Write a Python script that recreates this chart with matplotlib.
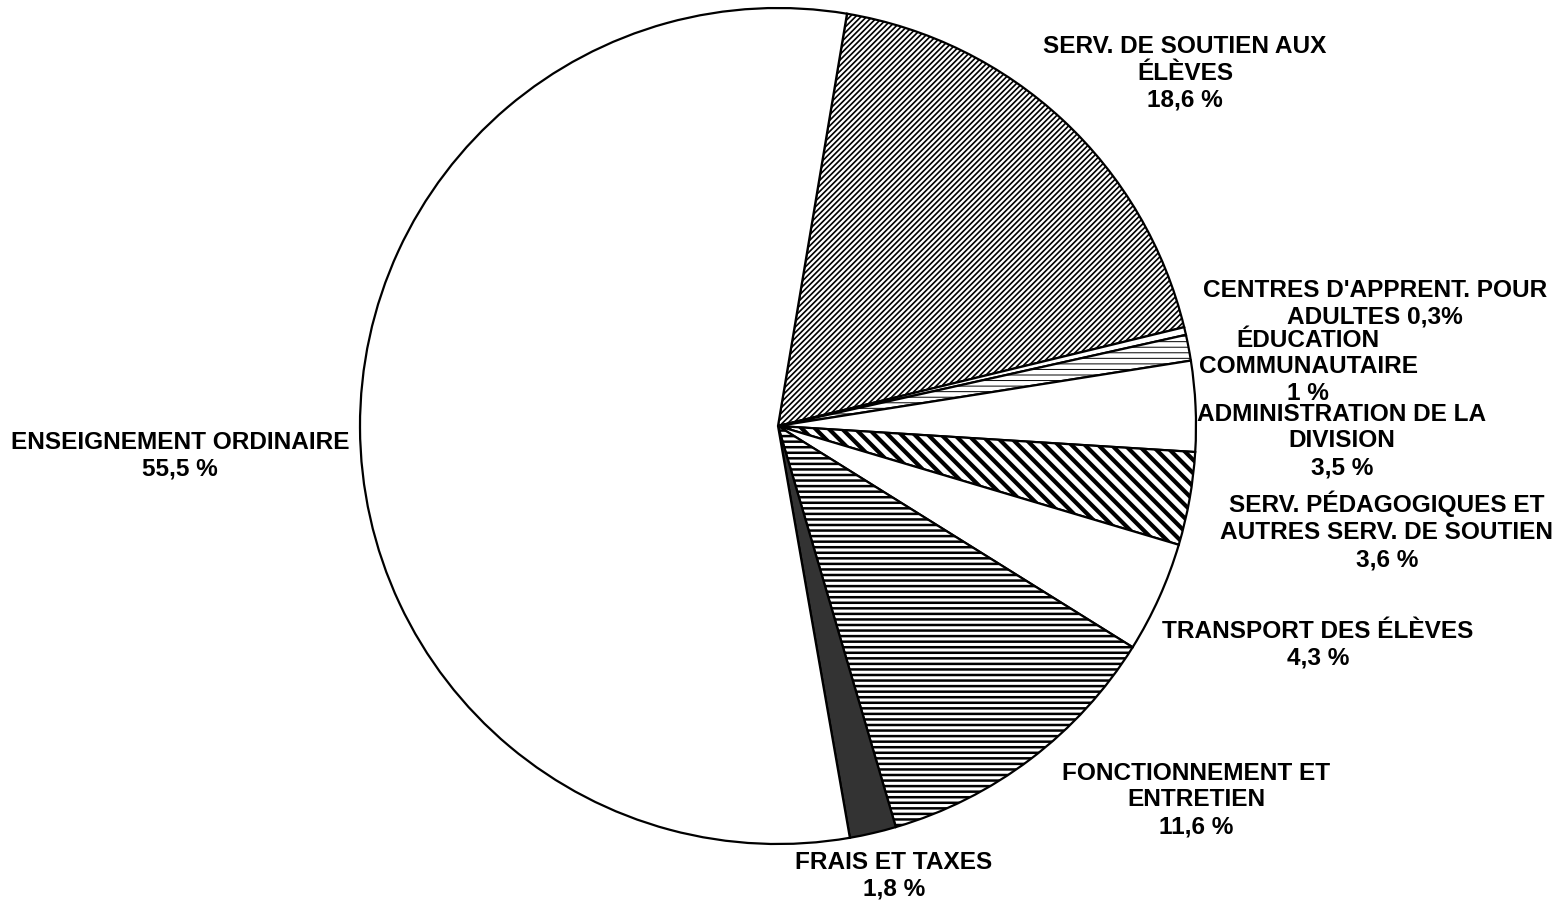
import matplotlib
matplotlib.use("Agg")
import matplotlib.pyplot as plt

plt.rcParams['font.family'] = ['Liberation Sans', 'DejaVu Sans']

# ---- data ----
categories = [
    "SERV. DE SOUTIEN AUX\nÉLÈVES\n18,6 %",
    "CENTRES D'APPRENT. POUR\nADULTES 0,3%",
    "ÉDUCATION\nCOMMUNAUTAIRE\n1 %",
    "ADMINISTRATION DE LA\nDIVISION\n3,5 %",
    "SERV. PÉDAGOGIQUES ET\nAUTRES SERV. DE SOUTIEN\n3,6 %",
    "TRANSPORT DES ÉLÈVES\n4,3 %",
    "FONCTIONNEMENT ET\nENTRETIEN\n11,6 %",
    "FRAIS ET TAXES\n1,8 %",
    "ENSEIGNEMENT ORDINAIRE\n55,5 %",
]
values = [18.6, 0.3, 1.0, 3.5, 3.6, 4.3, 11.6, 1.8, 55.5]

# ---- styles / layout ----
faces = ['white', 'white', 'white', 'white', 'white', 'white', 'white', '#333333', 'white']
hatches = ['/' * 12, None, '------', None, '\\' * 5, None, '------', None, None]
hatch_lw = [0.6, 0.5, 0.35, 0.5, 1.5, 0.5, 0.9, 0.5, 0.5]
# label centres in pixel coordinates (x from left, y from top)
label_px = [(1185, 73), (1375, 304), (1308, 367), (1342, 441), (1387, 531),
            (1318, 645), (1196, 800), (894, 876), (180, 456)]

W, H, DPI = 1558, 903, 200
cx, cy, R = 778, 427, 418

fig = plt.figure(figsize=(W / DPI, H / DPI), dpi=DPI)
ax = fig.add_axes([0, 0, 1, 1])
wedges, _ = ax.pie(values, startangle=80.5, counterclock=False, colors=faces,
                   wedgeprops=dict(edgecolor='black', linewidth=0.8))
for w, h, lw in zip(wedges, hatches, hatch_lw):
    if h:
        w.set_hatch(h)
        if hasattr(w, 'set_hatch_linewidth'):
            w.set_hatch_linewidth(lw)

ax.set_xlim((0 - cx) / R, (W - cx) / R)
ax.set_ylim((cy - H) / R, cy / R)
ax.set_aspect('auto')
ax.axis('off')

for txt, (px, py) in zip(categories, label_px):
    fig.text(px / W, 1 - py / H, txt, ha='center', va='center', fontsize=8.8,
             fontweight='bold', linespacing=1.22)

fig.savefig('out.png', dpi=DPI, facecolor='white')
